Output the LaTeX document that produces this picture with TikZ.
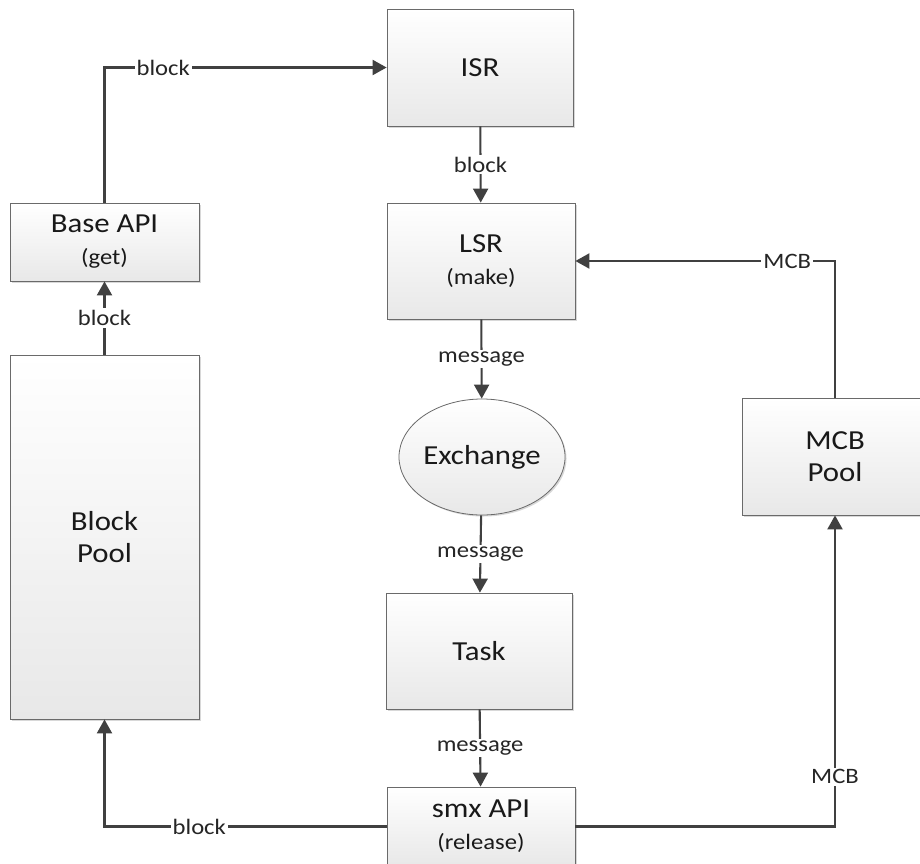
\documentclass[tikz,border=0pt]{standalone}
\usepackage{fontspec}
\setmainfont{Carlito}[FakeStretch=1.12]
\usetikzlibrary{%
    arrows.meta,
    shadows,
    shapes.geometric
}
\definecolor{lineGray}{HTML}{404040}
\definecolor{edgeGray}{HTML}{6A6A6A}
\newcommand{\callnote}[1]{{\fontsize{22}{24}\selectfont #1}}
\tikzset{
    unit/.style={draw=edgeGray, line width=0.8pt, top color=white, bottom color=black!9,
        drop shadow={shadow xshift=1.5pt, shadow yshift=-1.5pt, fill=black!30, opacity=0.5},
        align=center, inner sep=0pt, font=\fontsize{27.5}{32}\selectfont, text=black!90},
    flow/.style={draw=lineGray, line width=2.1pt, -{Triangle[length=14pt,width=15pt]}},
    tag/.style={fill=white, inner sep=2pt, font=\fontsize{22}{24}\selectfont, text=black!85}
}

\begin{document}
\begin{tikzpicture}[x=1pt, y=-1pt]
    \useasboundingbox[fill=white] (0,0) rectangle (920,863);

    \node (isr)       [unit, minimum width=186, minimum height=117] at (480,67.5)  {ISR};
    \node (lsr)       [unit, minimum width=188, minimum height=116] at (481,261)   {LSR\\\callnote{(make)}};
    \node (exchange)  [unit, ellipse, minimum width=141, minimum height=116] at (482,457) {Exchange};
    \node (task)      [unit, minimum width=186, minimum height=116] at (479,651)   {Task};
    \node (smx)       [unit, minimum width=188, minimum height=79]  at (481,826.5) {smx API\\\callnote{(release)}};
    \node (baseapi)   [unit, minimum width=189, minimum height=78]  at (104.5,242) {Base API\\\callnote{(get)}};
    \node (blockpool) [unit, minimum width=189, minimum height=364] at (104.5,537) {Block\\Pool};
    \node (mcbpool)   [unit, minimum width=186, minimum height=117] at (835,456.5) {MCB\\Pool};

    \foreach \Source/\Target/\Label in {%
        isr/lsr/block,
        lsr/exchange/message,
        exchange/task/message,
        task/smx/message,
        blockpool/baseapi/block%
        }
        \draw[flow] (\Source) -- node[tag] {\Label} (\Target);

    \draw[flow] (baseapi.north) |- node[tag, pos=0.604] {block} (isr.west);
    \draw[flow] (smx.west) -| node[tag, pos=0.332] {block} (blockpool.south);
    \draw[flow] (smx.east) -| node[tag, pos=0.58] {MCB} (mcbpool.south);
    \draw[flow] (mcbpool.north) |- node[tag, pos=0.592] {MCB} (lsr.east);
\end{tikzpicture}
\end{document}
